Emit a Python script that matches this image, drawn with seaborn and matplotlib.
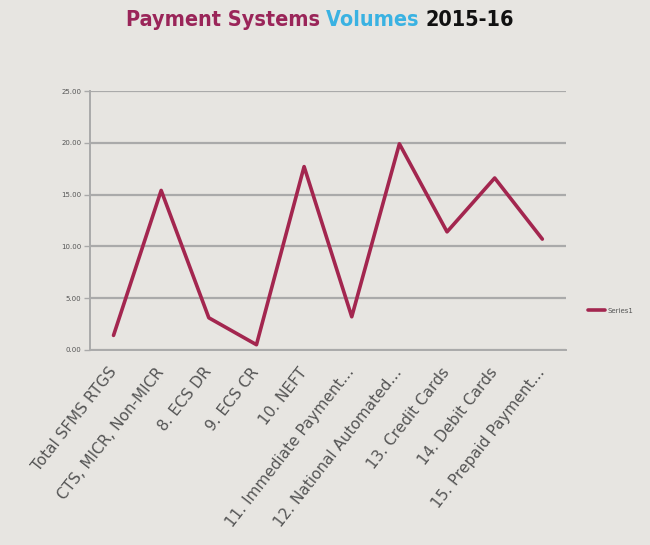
import matplotlib
matplotlib.use("Agg")
import matplotlib.pyplot as plt
import seaborn as sns
import pandas as pd
import numpy as np

categories = ["Total SFMS RTGS", "CTS, MICR, Non-MICR", "8. ECS DR", "9. ECS CR",
              "10. NEFT", "11. Immediate Payment\u2026", "12. National Automated\u2026",
              "13. Credit Cards", "14. Debit Cards", "15. Prepaid Payment\u2026"]
values = [1.4, 15.4, 3.1, 0.5, 17.7, 3.2, 19.9, 11.4, 16.6, 10.7]
y_ticks = [0, 5, 10, 15, 20, 25]
series_name = "Series1"

sns.set_theme(style="white")
plt.rcParams['font.family'] = ['DejaVu Sans']

bg = "#e7e5e1"
line_color = "#a3264f"
grid_color = "#aaaaaa"

fig = plt.figure(figsize=(6.5, 5.45), dpi=100, facecolor=bg)
ax = fig.add_axes([0.138, 0.358, 0.733, 0.475])
ax.set_facecolor(bg)

df = pd.DataFrame({"cat": categories, "val": values, "series": series_name})
sns.lineplot(data=df, x="cat", y="val", hue="series", palette=[line_color],
             linewidth=2.6, ax=ax, sort=False)

ax.set_xlim(-0.5, len(categories) - 0.5)
ax.set_ylim(0, 25)
ax.set_yticks(y_ticks)
ax.set_yticklabels([f"{v:.2f}" for v in y_ticks], fontsize=5, color="#555555")
ax.yaxis.grid(True, color=grid_color, linewidth=1.6)
ax.xaxis.grid(False)
ax.set_axisbelow(True)

ax.set_xticks(range(len(categories)))
ax.set_xticklabels(categories, rotation=52, ha="right", va="center", rotation_mode="anchor",
                   fontsize=11, color="#555555")
ax.tick_params(axis="x", which="major", length=0, pad=14)
ax.set_xticks(np.arange(-0.5, len(categories), 1), minor=True)
ax.tick_params(axis="x", which="minor", length=4, color=grid_color, width=1, direction="out")
ax.tick_params(axis="y", length=4, color=grid_color, width=1, direction="out", left=True, pad=2)

for s in ["top", "right"]:
    ax.spines[s].set_visible(False)
ax.spines["left"].set_color(grid_color)
ax.spines["left"].set_linewidth(1.4)
ax.spines["bottom"].set_color(grid_color)
ax.spines["bottom"].set_linewidth(1.4)

ax.set_xlabel("")
ax.set_ylabel("")

leg = ax.legend(loc="center left", bbox_to_anchor=(0.895, 0.43), bbox_transform=fig.transFigure,
                frameon=False, fontsize=5, handlelength=2.5, handletextpad=0.3)
for t in leg.get_texts():
    t.set_color("#555555")
for h in leg.get_lines():
    h.set_linewidth(2.6)

# Title in three colours
parts = [("Payment Systems ", "#9a2559"), ("Volumes ", "#3ab2e2"), ("2015-16", "#111111")]
fig.canvas.draw()
renderer = fig.canvas.get_renderer()
texts = []
for s, c in parts:
    t = fig.text(0, 1 - 20 / 545, s, color=c, fontsize=15.5, fontweight="bold",
                 fontstretch="condensed", family=["DejaVu Sans"], va="center", ha="left")
    texts.append(t)
widths = []
for t in texts:
    bb = t.get_window_extent(renderer=renderer)
    widths.append(bb.width / fig.bbox.width)
total = sum(widths)
x = 0.492 - total / 2
for t, w in zip(texts, widths):
    t.set_x(x)
    x += w

fig.savefig("out.png", dpi=100, facecolor=bg)
